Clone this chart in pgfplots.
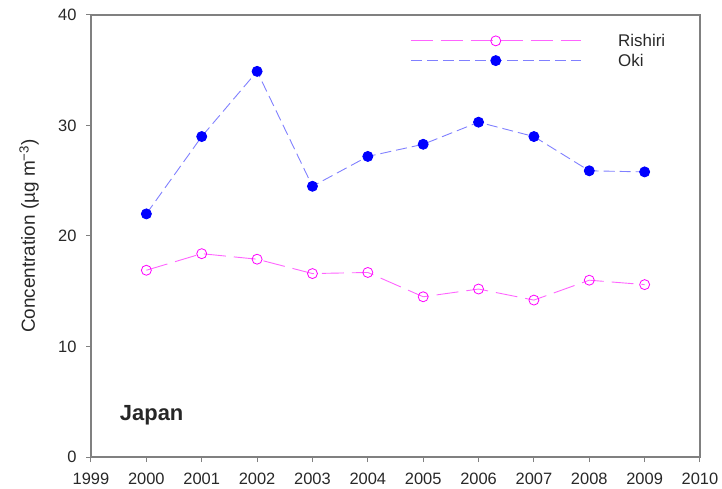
\documentclass[border=0pt]{standalone}
\usepackage{fontspec}
\setmainfont{Liberation Sans}
\usepackage{pgfplots}
\pgfplotsset{compat=1.18}
\definecolor{okiline}{RGB}{128,128,255}
\definecolor{okimark}{RGB}{0,0,255}
\definecolor{rishline}{RGB}{255,100,255}
\definecolor{rishmark}{RGB}{255,0,255}
\definecolor{axgray}{RGB}{128,128,128}
\definecolor{txt}{RGB}{40,40,40}
\begin{document}
\begin{tikzpicture}
\begin{axis}[
  scale only axis,
  width=609bp, height=442bp,
  xmin=1999, xmax=2010, ymin=0, ymax=40,
  xtick={1999,2000,...,2010},
  ytick={0,10,20,30,40},
  xtick pos=left, ytick pos=left,
  tick align=outside,
  major tick length=5bp,
  axis line style={axgray, line width=1.2bp},
  tick style={axgray, line width=1bp},
  /pgf/number format/assume math mode=true,
  x tick label style={/pgf/number format/1000 sep={}, font=\fontsize{16.5}{19}\selectfont, text=txt, yshift=-8bp},
  y tick label style={font=\fontsize{16.5}{19}\selectfont, text=txt, xshift=-6bp},
  ylabel={Concentration (µg m\textsuperscript{−3})},
  ylabel style={font=\fontsize{19}{23}\selectfont, text=txt, at={(axis description cs:-0.080,0.5)}, anchor=south},
  legend cell align=left,
  legend style={draw=none, fill=none, at={(axis description cs:0.524,0.962)}, anchor=north west,
    font=\fontsize{17}{20}\selectfont, text=txt, row sep=2bp, inner sep=0pt},
  legend image code/.code={
    \draw[#1, mark=none] (0bp,0bp) -- (170bp,0bp);
    \draw[#1] plot coordinates {(85bp,0bp)};
    \path (205bp,0bp);
  },
]
\addplot[rishline, line width=0.9bp, dash pattern=on 22bp off 8bp,
  mark=o, mark size=5bp, mark options={solid, draw=rishmark, line width=0.8bp, fill=white}]
  coordinates {(2000,16.9) (2001,18.4) (2002,17.9) (2003,16.6) (2004,16.7) (2005,14.5) (2006,15.2) (2007,14.2) (2008,16.0) (2009,15.6)};
\addlegendentry{Rishiri}
\addplot[okiline, line width=0.9bp, dash pattern=on 11bp off 5bp,
  mark=*, mark size=5bp, mark options={solid, draw=okimark, fill=okimark}]
  coordinates {(2000,22.0) (2001,29.0) (2002,34.9) (2003,24.5) (2004,27.2) (2005,28.3) (2006,30.3) (2007,29.0) (2008,25.9) (2009,25.8)};
\addlegendentry{Oki}
\node[anchor=west, font=\bfseries\fontsize{22}{26}\selectfont, text=black!85] at (axis cs:1999.46,3.8) {Japan};
\end{axis}
\path (current axis.south west) ++(-91bp,-32bp) rectangle ++(722bp,489bp);
\end{tikzpicture}
\end{document}
